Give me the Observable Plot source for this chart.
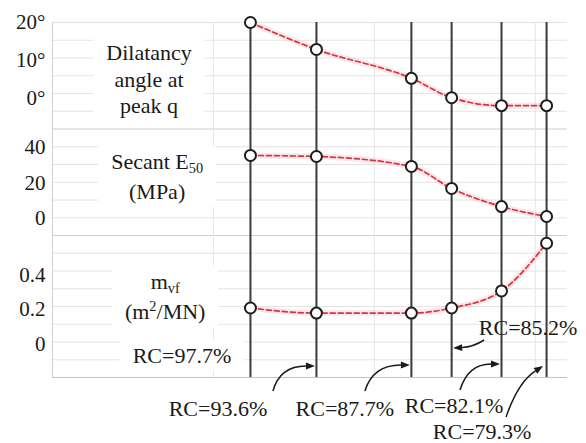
<!DOCTYPE html>
<html>
<head>
<meta charset="utf-8">
<script src="https://cdn.jsdelivr.net/npm/d3@7"></script>
<script src="https://cdn.jsdelivr.net/npm/@observablehq/plot@0.6"></script>
<style>
  body { margin: 0; background: #fff; }
</style>
</head>
<body>
<div id="chart"></div>
<script>
// Relative compaction of each specimen (%)
const rc = [97.7, 93.6, 87.7, 85.2, 82.1, 79.3];

// Measured quantities per specimen
const dilatancy = [20, 12.9, 5.3, 0.2, -1.9, -1.9];   // degrees, at peak q
const secantE50 = [35.4, 34.8, 29.2, 16.8, 6.6, 1.0]; // MPa
const mvf = [0.21, 0.18, 0.18, 0.21, 0.31, 0.59];     // m2/MN

// Tick values for each band
const dilatancyTicks = [20, 10, 0];
const e50Ticks = [40, 20, 0];
const mvfTicks = [0.4, 0.2, 0];

// Band titles (_{..} subscript, ^{..} superscript)
const dilatancyTitle = "Dilatancy\nangle at\npeak q";
const e50Title = "Secant E_{50}\n(MPa)";
const mvfTitle = "m_{vf}\n(m^{2}/MN)";

const serif = "'Liberation Serif', 'Times New Roman', serif";

// Each band maps its own units onto a shared row scale (0..20 grid rows)
const bands = [
  {key: "dilatancy", values: dilatancy, ticks: dilatancyTicks, fmt: d => `${d}°`, zero: 15.72, perUnit: 0.214,
   title: dilatancyTitle, tx: 104.0, ty: 16.85, lh: 1.2},
  {key: "e50", values: secantE50, ticks: e50Ticks, fmt: d => `${d}`, zero: 8.97, perUnit: 0.1,
   title: e50Title, tx: 103.5, ty: 11.45, lh: 1.36},
  {key: "mvf", values: mvf, ticks: mvfTicks, fmt: d => `${d}`, zero: 1.9, perUnit: 9.6,
   title: mvfTitle, tx: 103.0, ty: 4.7, lh: 1.4}
];

const toRow = (b, v) => b.zero + v * b.perUnit;
const points = bands.flatMap(b => b.values.map((v, i) => ({band: b.key, rc: rc[i], row: toRow(b, v)})));
const tickRows = bands.flatMap(b => b.ticks.map(t => ({row: toRow(b, t), label: b.fmt(t)})));
const gridRows = d3.range(0, 21);
const gridRc = [110, 100, 90, 80];

// Callout placement for each RC label (pixel offsets from the specimen line / bottom edge)
const callouts = [
  {rc: 97.7, text: [-68, -22], boxed: true},
  {rc: 93.6, text: [-98, 31], tail: [-43, 14], ctrl: [-36, -11], tip: [-1, -11]},
  {rc: 87.7, text: [-66, 31], tail: [-46, 14], ctrl: [-38, -12], tip: [-1, -12]},
  {rc: 85.2, text: [77, -50], tail: [33, -37], ctrl: [22, -30], tip: [2, -29]},
  {rc: 82.1, text: [-47, 28], tail: [-41, 13], ctrl: [-33, -13], tip: [-1, -13]},
  {rc: 79.3, text: [-64, 54], tail: [-40, 40], ctrl: [-28, 5], tip: [-3, -11]}
];

function calloutMark(index, scales, values, dimensions, context) {
  const g = d3.create("svg:g").attr("class", "callouts")
    .attr("font-family", serif).attr("font-size", 22);
  const y0 = scales.y(0);
  for (const c of callouts) {
    const xl = scales.x(c.rc);
    const t = g.append("text")
      .attr("x", xl + c.text[0]).attr("y", y0 + c.text[1])
      .attr("dy", "0.35em").attr("text-anchor", "middle")
      .attr("fill", "#1a1a1a").text(`RC=${c.rc}%`);
    if (c.boxed) t.attr("class", "boxed");
    if (!c.tail) continue;
    const sx = xl + c.tail[0], sy = y0 + c.tail[1];
    const cx = xl + c.ctrl[0], cy = y0 + c.ctrl[1];
    const ex = xl + c.tip[0], ey = y0 + c.tip[1];
    const ang = Math.atan2(ey - cy, ex - cx);
    const L = 9, W = 3.4;
    const bx = ex - L * Math.cos(ang), by = ey - L * Math.sin(ang);
    g.append("path")
      .attr("d", `M${sx},${sy}Q${cx},${cy} ${bx},${by}`)
      .attr("fill", "none").attr("stroke", "#1a1a1a").attr("stroke-width", 1.5);
    const nx = -Math.sin(ang) * W, ny = Math.cos(ang) * W;
    g.append("path")
      .attr("d", `M${ex},${ey}L${bx + nx},${by + ny}L${bx - nx},${by - ny}Z`)
      .attr("fill", "#1a1a1a");
  }
  return g.node();
}

const chart = Plot.plot({
  width: 586,
  height: 443,
  marginLeft: 52,
  marginRight: 19,
  marginTop: 22,
  marginBottom: 66,
  x: {domain: [110, 78], axis: null},
  y: {domain: [0, 20], axis: null},
  style: {fontFamily: serif, fontSize: "21px", background: "white", overflow: "visible"},
  marks: [
    Plot.ruleY(gridRows, {stroke: d => (d === 8 || d === 14) ? "#cdcdcd" : "#e4e4e4", strokeWidth: 1}),
    Plot.ruleX(gridRc, {y1: 0, y2: 20, stroke: "#e6e6e6"}),
    Plot.ruleX([110], {y1: 0, y2: 20, stroke: "#cfcfcf"}),
    Plot.ruleY([0], {stroke: "#c4c4c4"}),
    Plot.ruleX(rc, {y1: 0, y2: 20, stroke: "#3a3a3a", strokeWidth: 2, className: "rc-lines"}),
    Plot.line(points, {x: "rc", y: "row", z: "band", stroke: "#f3b3bb", strokeWidth: 6, strokeOpacity: 0.3, curve: "monotone-x"}),
    Plot.line(points, {x: "rc", y: "row", z: "band", stroke: "#d8343f", strokeWidth: 1.7, strokeDasharray: "5,3", curve: "monotone-x"}),
    Plot.dot(points, {x: "rc", y: "row", r: 5.5, fill: "white", stroke: "#1e1e1e", strokeWidth: 2}),
    Plot.text(tickRows, {y: "row", text: "label", frameAnchor: "left", dx: -7, textAnchor: "end", fill: "#1a1a1a", fontFamily: serif, fontSize: 21}),
    ...bands.map(b => Plot.text([b], {x: "tx", y: "ty", text: "title", lineHeight: b.lh, fill: "#1a1a1a", fontFamily: serif, fontSize: 22, className: "band-title"})),
    calloutMark
  ]
});

document.getElementById("chart").append(chart);

// Rich text: turn _{..} and ^{..} into shifted, smaller tspans
d3.select(chart).selectAll("g.band-title text tspan").each(function () {
  const s = this.textContent;
  if (!/[_^]\{/.test(s)) return;
  const line = d3.select(this).text("");
  const re = /([_^])\{([^}]*)\}/g;
  let last = 0, m;
  while ((m = re.exec(s))) {
    if (m.index > last) line.append("tspan").text(s.slice(last, m.index));
    line.append("tspan")
      .attr("font-size", "0.65em")
      .attr("baseline-shift", m[1] === "_" ? "-4" : "8")
      .text(m[2]);
    last = re.lastIndex;
  }
  if (last < s.length) line.append("tspan").text(s.slice(last));
});

// White boxes behind the band titles so the grid does not run through them
const boxTexts = [...chart.querySelectorAll("g.band-title text, text.boxed")];
const boxLayer = d3.create("svg:g").attr("class", "title-boxes");
const svgM = chart.getScreenCTM();
for (const t of boxTexts) {
  const b = t.getBBox();
  const m = t.getScreenCTM();
  const ox = m.e - svgM.e, oy = m.f - svgM.f;
  boxLayer.append("rect")
    .attr("x", b.x + ox - 13).attr("y", b.y + oy - 3)
    .attr("width", b.width + 26).attr("height", b.height + 6)
    .attr("fill", "white");
}
const rcLines = chart.querySelector("g.rc-lines");
chart.insertBefore(boxLayer.node(), rcLines);
</script>
</body>
</html>
